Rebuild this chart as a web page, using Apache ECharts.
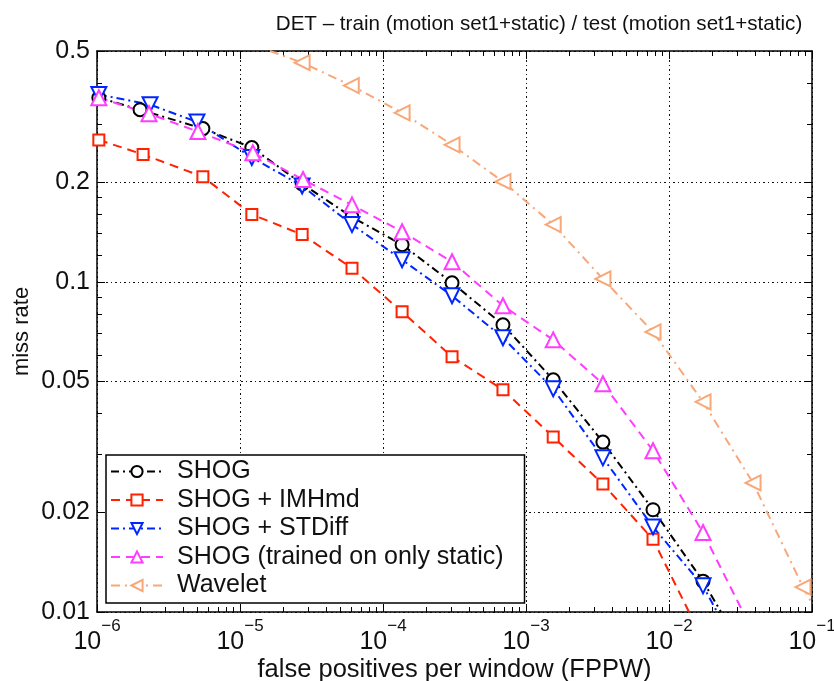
<!DOCTYPE html>
<html>
<head>
<meta charset="utf-8">
<title>DET</title>
<script src="https://cdn.jsdelivr.net/npm/echarts@6/dist/echarts.min.js"></script>
<style>
  html, body { margin: 0; padding: 0; background: #fff; }
  #chart { width: 834px; height: 681px; }
</style>
</head>
<body>
<div id="chart"></div>
<script>
// values: x = false positives per window, y = miss rate
const shogFppw = [1.03e-6, 2.0e-6, 5.5e-6, 1.21e-5, 2.72e-5, 6.07e-5, 1.36e-4, 3.04e-4, 6.9e-4, 1.55e-3, 3.45e-3, 7.73e-3, 1.73e-2]
const shogMiss = [0.361, 0.332, 0.291, 0.255, 0.198, 0.157, 0.1295, 0.0993, 0.0741, 0.0505, 0.0327, 0.0204, 0.0124]
const shogEnd = [2.31e-2, 0.01]

const imhFppw = [1.03e-6, 2.1e-6, 5.5e-6, 1.21e-5, 2.72e-5, 6.07e-5, 1.36e-4, 3.04e-4, 6.9e-4, 1.55e-3, 3.45e-3, 7.73e-3]
const imhMiss = [0.269, 0.243, 0.208, 0.16, 0.139, 0.11, 0.0811, 0.0593, 0.0471, 0.0339, 0.0244, 0.0166]
const imhEnd = [1.38e-2, 0.01]

const stdFppw = [1.03e-6, 2.35e-6, 5.0e-6, 1.21e-5, 2.72e-5, 6.07e-5, 1.36e-4, 3.04e-4, 6.9e-4, 1.55e-3, 3.45e-3, 7.73e-3, 1.73e-2]
const stdMiss = [0.369, 0.344, 0.305, 0.238, 0.195, 0.149, 0.1166, 0.0907, 0.0677, 0.0474, 0.0293, 0.0181, 0.012]
const stdEnd = [2.17e-2, 0.01]

const staticFppw = [1.03e-6, 2.31e-6, 5.08e-6, 1.23e-5, 2.76e-5, 6.07e-5, 1.36e-4, 3.04e-4, 6.9e-4, 1.55e-3, 3.45e-3, 7.73e-3, 1.73e-2]
const staticMiss = [0.361, 0.323, 0.285, 0.246, 0.204, 0.171, 0.1418, 0.115, 0.0846, 0.0667, 0.0491, 0.0308, 0.0174]
const staticEnd = [3.29e-2, 0.01]

const waveStart = [1.62e-5, 0.5]
const waveFppw = [2.72e-5, 6.0e-5, 1.36e-4, 3.04e-4, 6.9e-4, 1.55e-3, 3.45e-3, 7.73e-3, 1.73e-2, 3.87e-2, 8.65e-2]
const waveMiss = [0.461, 0.393, 0.325, 0.26, 0.201, 0.149, 0.102, 0.0705, 0.0433, 0.0246, 0.0119]
const waveEnd = [0.1, 0.0106]

const xMajor = [1e-6, 1e-5, 1e-4, 1e-3, 1e-2, 1e-1]
const xMinor = [-6, -5, -4, -3, -2].flatMap(e => [2, 3, 4, 5, 6, 7, 8, 9].map(k => k * Math.pow(10, e)))
const yMajor = [0.01, 0.02, 0.05, 0.1, 0.2, 0.5]
const yMinor = [0.03, 0.04, 0.06, 0.07, 0.08, 0.09, 0.12, 0.14, 0.16, 0.18, 0.3, 0.4]

const font = 'Liberation Sans, Arial, Helvetica, sans-serif'
const gridStyle = { color: '#111', width: 1, type: [2, 3, 1, 3] }

const chart = echarts.init(document.getElementById('chart'))

const makeData = (xs, ys, start, end) => {
  const out = xs.map((x, i) => ({ value: [x, ys[i]] }))
  if (start) out.unshift({ value: start, symbol: 'none' })
  if (end) out.push({ value: end, symbol: 'none' })
  return out
}

const lineSeries = (name, color, dash, symbol, size, rotate, data) => ({
  name,
  type: 'line',
  data,
  symbol,
  symbolSize: size,
  symbolRotate: rotate,
  showAllSymbol: true,
  clip: true,
  itemStyle: { color, borderWidth: 2 },
  lineStyle: { color, width: 2, type: dash },
  emphasis: { disabled: true }
})

const baseAxis = {
  type: 'log',
  logBase: 10,
  gridIndex: 0
}

const xLabel = v => {
  const e = Math.round(Math.log10(v))
  return '{b|10}{s|' + (e < 0 ? '\u2212' + -e : e) + '}'
}

// extra axes only carry the minor ticks and the box on top/right
const plainX = (position, ticks, len, line) => Object.assign({}, baseAxis, {
  position,
  min: 1e-6,
  max: 1e-1,
  axisLine: { show: line, lineStyle: { color: '#000', width: 1.5 } },
  axisTick: { inside: true, length: len, customValues: ticks, lineStyle: { color: '#000', width: 1 } },
  axisLabel: { show: false },
  splitLine: { show: false }
})
const plainY = (position, ticks, len, line) => Object.assign({}, baseAxis, {
  position,
  min: 0.01,
  max: 0.5,
  axisLine: { show: line, lineStyle: { color: '#000', width: 1.5 } },
  axisTick: { inside: true, length: len, customValues: ticks, lineStyle: { color: '#000', width: 1 } },
  axisLabel: { show: false },
  splitLine: { show: false }
})

chart.setOption({
  animation: false,
  backgroundColor: '#fff',
  title: {
    text: 'DET \u2013 train (motion set1+static) / test (motion set1+static)',
    left: 534,
    top: 9,
    textAlign: 'center',
    textStyle: { fontFamily: font, fontSize: 20.6, fontWeight: 'normal', color: '#111' }
  },
  grid: { left: 97, right: 22, top: 51, bottom: 69, outerBoundsMode: 'none', containLabel: false },
  legend: {
    orient: 'vertical',
    left: 106,
    top: 455,
    backgroundColor: '#fff',
    borderColor: '#000',
    borderWidth: 1.5,
    borderRadius: 0,
    padding: [4, 21, 5, 4],
    itemWidth: 52,
    itemHeight: 14,
    itemGap: 3.5,
    textStyle: { fontFamily: font, fontSize: 25, color: '#111', padding: [0, 0, 0, 9] },
    data: ['SHOG', 'SHOG + IMHmd', 'SHOG + STDiff', 'SHOG (trained on only static)', 'Wavelet']
  },
  xAxis: [
    Object.assign({}, baseAxis, {
      position: 'bottom',
      min: 1e-6,
      max: 1e-1,
      name: 'false positives per window (FPPW)',
      nameLocation: 'middle',
      nameGap: 45,
      nameMoveOverlap: false,
      nameTextStyle: { fontFamily: font, fontSize: 25.5, color: '#111' },
      axisLine: { lineStyle: { color: '#000', width: 1.5 } },
      axisTick: { inside: true, length: 8, customValues: xMajor, lineStyle: { color: '#000', width: 1 } },
      axisLabel: {
        customValues: xMajor,
        margin: 6,
        formatter: xLabel,
        rich: {
          b: { fontFamily: font, fontSize: 25, color: '#111', verticalAlign: 'bottom', padding: [12, 0, 0, 0] },
          s: { fontFamily: font, fontSize: 17, color: '#111', verticalAlign: 'top' }
        }
      },
      splitLine: { show: true, lineStyle: gridStyle }
    }),
    plainX('top', xMajor, 8, true),
    plainX('bottom', xMinor, 5, false),
    plainX('top', xMinor, 5, false)
  ],
  yAxis: [
    Object.assign({}, baseAxis, {
      position: 'left',
      min: 0.01,
      max: 0.5,
      name: 'miss rate',
      nameLocation: 'middle',
      nameGap: 64,
      nameMoveOverlap: false,
      nameRotate: 90,
      nameTextStyle: { fontFamily: font, fontSize: 22, color: '#111' },
      axisLine: { lineStyle: { color: '#000', width: 1.5 } },
      axisTick: { inside: true, length: 8, customValues: yMajor, lineStyle: { color: '#000', width: 1 } },
      axisLabel: {
        customValues: yMajor,
        margin: 7,
        fontFamily: font,
        fontSize: 25,
        color: '#111',
        formatter: v => String(+v.toPrecision(2))
      },
      splitLine: { show: true, lineStyle: gridStyle }
    }),
    plainY('right', yMajor, 8, true),
    plainY('left', yMinor, 5, false),
    plainY('right', yMinor, 5, false)
  ],
  series: [
    lineSeries('SHOG', '#000000', [8, 4, 2, 4], 'emptyCircle', 13, 0, makeData(shogFppw, shogMiss, null, shogEnd)),
    lineSeries('SHOG + IMHmd', '#ff2200', [9, 6], 'emptyRect', 11, 0, makeData(imhFppw, imhMiss, null, imhEnd)),
    lineSeries('SHOG + STDiff', '#0026ff', [8, 4, 2, 4], 'emptyTriangle', 15, 180, makeData(stdFppw, stdMiss, null, stdEnd)),
    lineSeries('SHOG (trained on only static)', '#ff3cff', [9, 6], 'emptyTriangle', 15, 0, makeData(staticFppw, staticMiss, null, staticEnd)),
    lineSeries('Wavelet', '#f8a878', [9, 5, 2, 5], 'emptyTriangle', 15, 90, makeData(waveFppw, waveMiss, waveStart, waveEnd))
  ]
})
</script>
</body>
</html>
